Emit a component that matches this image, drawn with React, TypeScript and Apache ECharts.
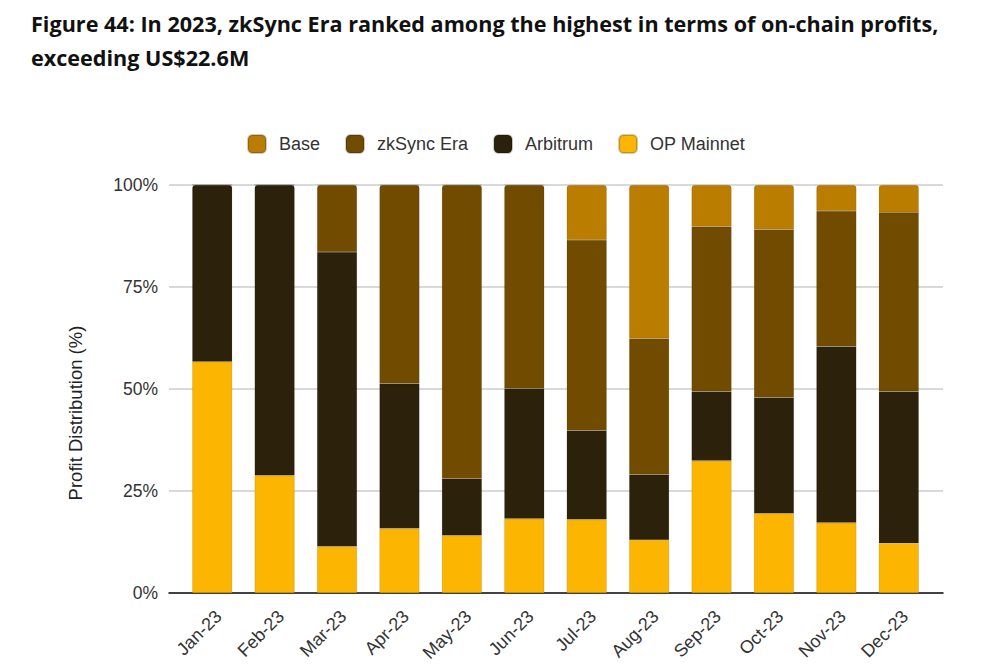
import React, { useEffect, useRef } from "react";
import * as echarts from "echarts";

const categories = ["Jan-23", "Feb-23", "Mar-23", "Apr-23", "May-23", "Jun-23", "Jul-23", "Aug-23", "Sep-23", "Oct-23", "Nov-23", "Dec-23"];
const opMainnet = [56.7, 28.8, 11.4, 15.8, 14.1, 18.2, 18.0, 13.0, 32.4, 19.5, 17.2, 12.2];
const arbitrum = [43.3, 71.2, 72.2, 35.5, 13.9, 31.9, 21.8, 16.0, 17.0, 28.4, 43.2, 37.2];
const zkSyncEra = [0, 0, 16.4, 48.7, 72.0, 49.9, 46.7, 33.4, 40.4, 41.2, 33.2, 43.9];
const base = [0, 0, 0, 0, 0, 0, 13.5, 37.6, 10.2, 10.9, 6.4, 6.7];
const yTicks = [0, 25, 50, 75, 100];

const seriesDefs = [
  { name: "OP Mainnet", data: opMainnet, color: "#FCB500" },
  { name: "Arbitrum", data: arbitrum, color: "#2C210A" },
  { name: "zkSync Era", data: zkSyncEra, color: "#714B00" },
  { name: "Base", data: base, color: "#BA7D00" },
];

export default function App() {
  const ref = useRef<HTMLDivElement>(null);
  useEffect(() => {
    if (!ref.current) return;
    const chart = echarts.init(ref.current, undefined, { renderer: "svg" });
    const topIndex = categories.map((_, i) => {
      let t = 0;
      seriesDefs.forEach((s, k) => {
        if (s.data[i] > 0) t = k;
      });
      return t;
    });
    const font = "Liberation Sans, Arial, sans-serif";
    chart.setOption({
      animation: false,
      title: {
        text: "Figure 44: In 2023, zkSync Era ranked among the highest in terms of on-chain profits,\nexceeding US$22.6M",
        left: 26,
        top: 1,
        textStyle: {
          fontFamily: "Open Sans, sans-serif",
          fontWeight: "bold",
          fontSize: 21.6,
          lineHeight: 34,
          color: "#111",
        },
      },
      legend: {
        data: ["Base", "zkSync Era", "Arbitrum", "OP Mainnet"],
        left: 242,
        top: 129,
        itemWidth: 18,
        itemHeight: 18,
        itemGap: 25,
        icon: "roundRect",
        textStyle: { fontFamily: font, fontSize: 18, color: "#333", padding: [0, 0, 0, 8] },
      },
      grid: [
        { left: 169, width: 774, top: 185, height: 408 },
        { left: 181, width: 749, top: 185, height: 408 },
      ],
      xAxis: [
        {
          type: "value",
          gridIndex: 0,
          min: 0,
          max: 1,
          axisLine: { show: true, lineStyle: { color: "#111", width: 1.5 } },
          axisTick: { show: false },
          axisLabel: { show: false },
          splitLine: { show: false },
        },
        {
          type: "category",
          gridIndex: 1,
          data: categories,
          axisLine: { show: false },
          axisTick: { show: false },
          axisLabel: {
            rotate: 45,
            margin: 14,
            verticalAlign: "top",
            fontFamily: font,
            fontSize: 18,
            color: "#333",
          },
        },
      ],
      yAxis: [
        {
          type: "value",
          gridIndex: 0,
          min: 0,
          max: 100,
          interval: 25,
          name: "Profit Distribution (%)",
          nameLocation: "middle",
          nameGap: 84,
          nameTextStyle: { fontFamily: font, fontSize: 18.5, color: "#222", padding: [0, 48, 0, 0] },
          axisLine: { show: false },
          axisTick: { show: false },
          axisLabel: {
            margin: 11,
            fontFamily: font,
            fontSize: 17.5,
            color: "#333",
            formatter: (v: number) => (yTicks.includes(v) ? v + "%" : ""),
          },
          splitLine: { lineStyle: { color: "#cccccc", width: 1.5 } },
        },
        {
          type: "value",
          gridIndex: 1,
          min: 0,
          max: 100,
          show: false,
          splitLine: { show: false },
        },
      ],
      series: seriesDefs.map((s, k) => ({
        name: s.name,
        type: "bar",
        stack: "total",
        xAxisIndex: 1,
        yAxisIndex: 1,
        barWidth: 40,
        itemStyle: { color: s.color, borderColor: "rgba(0,0,0,0.2)", borderWidth: 0.5 },
        data: s.data.map((v, i) =>
          topIndex[i] === k ? { value: v, itemStyle: { borderRadius: [3, 3, 0, 0] } } : v
        ),
      })),
    });
    return () => chart.dispose();
  }, []);
  return (
    <div
      ref={ref}
      style={{ position: "fixed", left: 0, top: 0, width: 988, height: 668, background: "#fff" }}
    />
  );
}
